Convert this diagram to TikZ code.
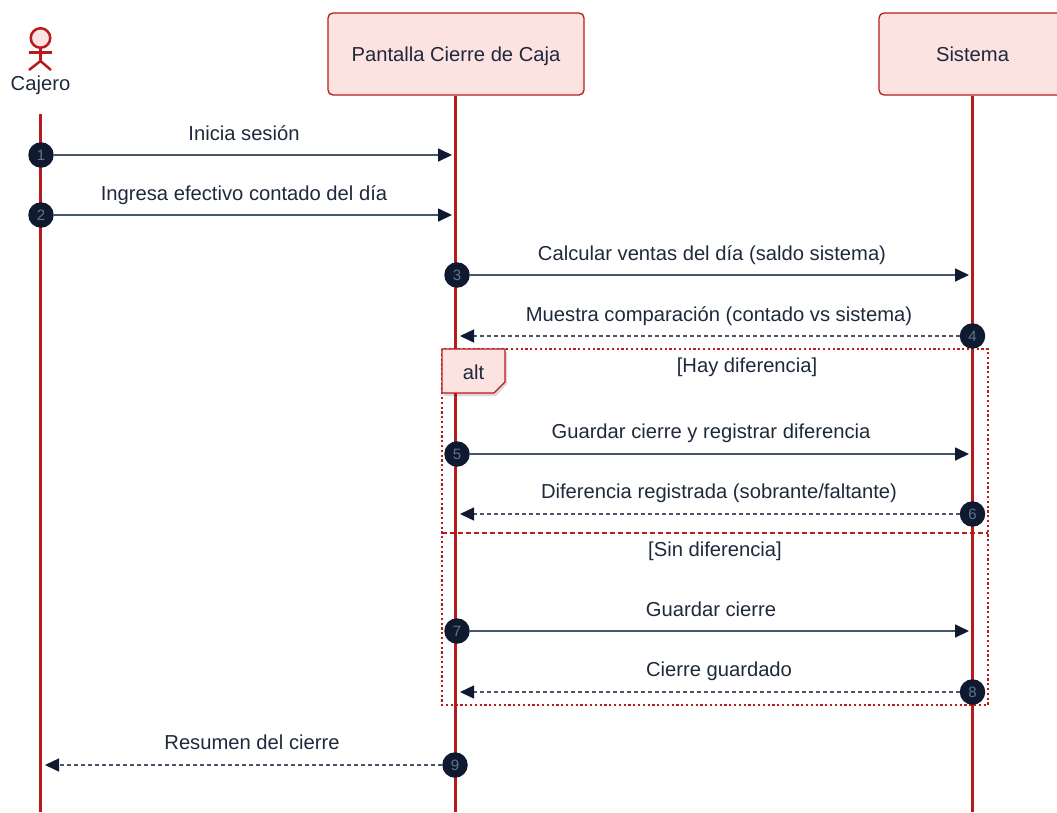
\documentclass[tikz,border=0pt]{standalone}
\usepackage{fontspec}
\setmainfont{Liberation Sans}
\usetikzlibrary{arrows.meta}
\definecolor{linered}{HTML}{B71C1C}
\definecolor{softred}{HTML}{FDE2E2}
\definecolor{inkdark}{HTML}{0F1A30}
\definecolor{inktext}{HTML}{1E293B}
\definecolor{inkline}{HTML}{475569}
\definecolor{inknum}{HTML}{64748B}
\tikzset{
  lifebox/.style={draw=linered, line width=1.3pt, fill=softred, rounded corners=5pt, text=inktext, text height=14.5pt, text depth=0pt, font=\fontsize{20.2}{25}\selectfont},
  lifeline/.style={draw=linered, line width=2.7pt},
  actorline/.style={draw=linered, line width=2.5pt},
  badge/.style={circle, fill=inkdark, text=inknum, minimum size=25.5pt, inner sep=0pt, font=\fontsize{15}{17}\selectfont},
  msg/.style={draw=inkline, line width=1.7pt, -{Triangle[length=14pt,width=13pt,color=inkdark]}},
  reply/.style={msg, line width=1.4pt, dash pattern=on 4pt off 3pt},
  msglabel/.style={inner sep=0pt, text=inktext, text height=14.5pt, text depth=0pt, font=\fontsize{20.2}{24}\selectfont},
  frameline/.style={draw=linered, line width=2.6pt, dash pattern=on 2.2pt off 2.6pt},
  divider/.style={draw=linered, line width=2.2pt, dash pattern=on 4.5pt off 3.5pt},
}
\begin{document}
\begin{tikzpicture}[x=1pt, y=-1pt]
\path[use as bounding box, clip] (0,0) rectangle (1057,812);

% lifelines
\node[lifebox, minimum width=256pt, minimum height=82pt] (pantalla) at (456,54) {Pantalla Cierre de Caja};
\node[lifebox, minimum width=187pt, minimum height=82pt] (sistema) at (972.5,54) {Sistema};
\coordinate (cajerostart) at (40.5,114);
\coordinate (cajeroend) at (40.5,812);
\coordinate (pantallaend) at (455.5,812);
\coordinate (sistemaend) at (972.5,812);
\draw[lifeline] (cajerostart) -- (cajeroend);
\draw[lifeline] (pantalla.south -| pantallaend) -- (pantallaend);
\draw[lifeline] (sistema.south -| sistemaend) -- (sistemaend);

% actor
\node[circle, draw=linered, line width=2.5pt, fill=softred, minimum size=19.5pt, inner sep=0pt] (cajerohead) at (40.5,38) {};
\coordinate (cajerohip) at (40.5,61);
\draw[actorline] (cajerohead) -- (cajerohip);
\draw[actorline] (29,52.5) -- (52,52.5);
\draw[actorline] (29,70) -- (cajerohip) -- (51,70);
\node[msglabel] (cajero) at (40.5,83) {Cajero};

% alt frame
\draw[frameline] (442,349) rectangle (988,705);
\draw[divider] (442,533) -- (988,533);
\fill[black, opacity=.15] (444,352) -- (507,352) -- (507,384) -- (496,396) -- (444,396) -- cycle;
\draw[draw=linered, line width=1.3pt, fill=softred] (442,349) -- (505,349) -- (505,382) -- (494,393) -- (442,393) -- cycle;
\node[msglabel] (alt) at (473.5,372) {alt};
\node[msglabel] (hay) at (747,365) {[Hay diferencia]};
\node[msglabel] (sin) at (715,549) {[Sin diferencia]};

% badges
\node[badge] (n1) at (41,155) {1};
\node[badge] (n2) at (41,215) {2};
\node[badge] (n3) at (457,275) {3};
\node[badge] (n4) at (972.5,336) {4};
\node[badge] (n5) at (457,454) {5};
\node[badge] (n6) at (972.5,514) {6};
\node[badge] (n7) at (457,631) {7};
\node[badge] (n8) at (972.5,692) {8};
\node[badge] (n9) at (455,765) {9};

\coordinate (t1) at (452,155);
\coordinate (t2) at (452,215);
\coordinate (t3) at (969,275);
\coordinate (t4) at (460,336);
\coordinate (t5) at (969,454);
\coordinate (t6) at (460,514);
\coordinate (t7) at (969,631);
\coordinate (t8) at (460,692);
\coordinate (t9) at (45,765);

\draw[msg] (n1) -- (t1);
\draw[msg] (n2) -- (t2);
\draw[msg] (n3) -- (t3);
\draw[reply] (n4) -- (t4);
\draw[msg] (n5) -- (t5);
\draw[reply] (n6) -- (t6);
\draw[msg] (n7) -- (t7);
\draw[reply] (n8) -- (t8);
\draw[reply] (n9) -- (t9);

\node[msglabel] (l1) at (244,133) {Inicia sesión};
\node[msglabel] (l2) at (244,193) {Ingresa efectivo contado del día};
\node[msglabel] (l3) at (712,253) {Calcular ventas del día (saldo sistema)};
\node[msglabel] (l4) at (719,314) {Muestra comparación (contado vs sistema)};
\node[msglabel] (l5) at (711,431) {Guardar cierre y registrar diferencia};
\node[msglabel] (l6) at (719,491) {Diferencia registrada (sobrante/faltante)};
\node[msglabel] (l7) at (711,609) {Guardar cierre};
\node[msglabel] (l8) at (719,669) {Cierre guardado};
\node[msglabel] (l9) at (252,742) {Resumen del cierre};
\end{tikzpicture}
\end{document}
